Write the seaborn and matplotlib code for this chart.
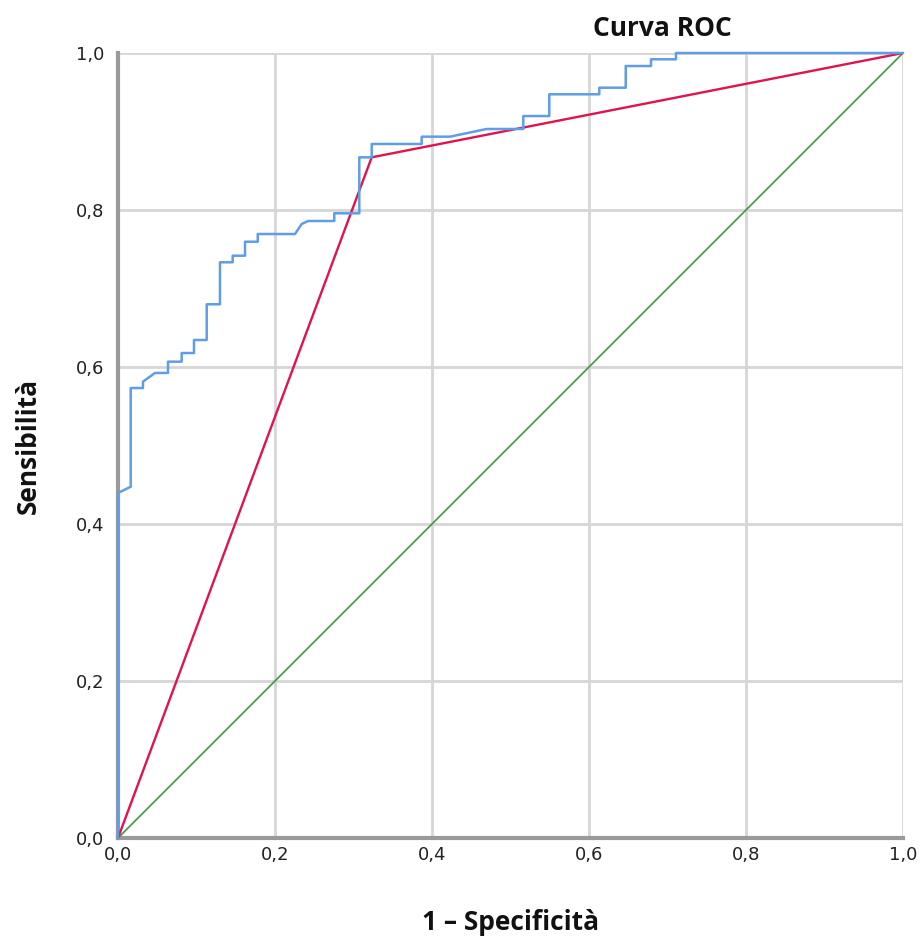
import matplotlib
matplotlib.use("Agg")
import matplotlib.pyplot as plt
import seaborn as sns
import pandas as pd

# ROC curve vertices (1 - specificity, sensitivity)
roc_fpr = [0.0, 0.0, 0.0162, 0.0162, 0.0318, 0.0318, 0.0471, 0.0637, 0.0637,
           0.0811, 0.0811, 0.0968, 0.0968, 0.113, 0.113, 0.1299, 0.1299,
           0.1461, 0.1461, 0.1618, 0.1618, 0.178, 0.178, 0.2255, 0.234,
           0.2424, 0.2755, 0.2755, 0.3074, 0.3074, 0.3232, 0.3232, 0.3869,
           0.3869, 0.4229, 0.4697, 0.5163, 0.5163, 0.5494, 0.5494, 0.6131,
           0.6131, 0.6468, 0.6468, 0.679, 0.679, 0.7108, 0.7108, 1.0]
roc_tpr = [0.0, 0.4395, 0.4475, 0.5732, 0.5732, 0.5813, 0.5924, 0.5924, 0.6068,
           0.6068, 0.6178, 0.6178, 0.6344, 0.6344, 0.6799, 0.6799, 0.7334,
           0.7334, 0.7418, 0.7418, 0.7596, 0.7596, 0.7694, 0.7694, 0.7822,
           0.7860, 0.7860, 0.7958, 0.7958, 0.8671, 0.8671, 0.8841, 0.8841,
           0.8934, 0.8934, 0.9032, 0.9032, 0.9197, 0.9197, 0.9474, 0.9474,
           0.9558, 0.9558, 0.9834, 0.9834, 0.992, 0.992, 1.0, 1.0]

# Second (binary) classifier ROC
bin_fpr = [0.0, 0.3232, 1.0]
bin_tpr = [0.0, 0.8671, 1.0]

# Reference line
ref_fpr = [0.0, 1.0]
ref_tpr = [0.0, 1.0]

ticks = [0.0, 0.2, 0.4, 0.6, 0.8, 1.0]
tick_labels = ["0,0", "0,2", "0,4", "0,6", "0,8", "1,0"]

sns.set_theme(style="white")
plt.rcParams['font.family'] = ['DejaVu Sans']

fig = plt.figure(figsize=(9.23, 9.36), dpi=100)
ax = fig.add_axes([118 / 923, 1 - 838 / 936, 785 / 923, 785 / 936])

df_roc = pd.DataFrame({"fpr": roc_fpr, "tpr": roc_tpr})
df_bin = pd.DataFrame({"fpr": bin_fpr, "tpr": bin_tpr})
df_ref = pd.DataFrame({"fpr": ref_fpr, "tpr": ref_tpr})

sns.lineplot(data=df_ref, x="fpr", y="tpr", sort=False, estimator=None, ax=ax,
             color="#3b9a3b", linewidth=1.2, zorder=3, clip_on=False)
sns.lineplot(data=df_bin, x="fpr", y="tpr", sort=False, estimator=None, ax=ax,
             color="#e0134e", linewidth=1.7, zorder=4, clip_on=False)
sns.lineplot(data=df_roc, x="fpr", y="tpr", sort=False, estimator=None, ax=ax,
             color="#5f9de6", linewidth=1.8, zorder=5, clip_on=False)

ax.set_xlim(0, 1)
ax.set_ylim(0, 1)
ax.set_xticks(ticks)
ax.set_yticks(ticks)
ax.set_xticklabels(tick_labels, fontsize=13, color="#222222")
ax.set_yticklabels(tick_labels, fontsize=13, color="#222222")
ax.tick_params(axis="both", length=0)
ax.tick_params(axis="x", pad=6)
ax.tick_params(axis="y", pad=10)

ax.grid(True, color="#d6d6d6", linewidth=2.0)
ax.set_axisbelow(True)
for side in ["top", "right"]:
    ax.spines[side].set_visible(False)
for side in ["left", "bottom"]:
    ax.spines[side].set_color("#9a9a9a")
    ax.spines[side].set_linewidth(3.0)
    ax.spines[side].set_zorder(2)

ax.set_xlabel("1 – Specificità", fontsize=19, fontweight="bold",
              family=["Open Sans", "DejaVu Sans"], labelpad=32, color="#111111")
ax.set_ylabel("Sensibilità", fontsize=19, fontweight="bold",
              family=["Open Sans", "DejaVu Sans"], labelpad=24, color="#111111")

fig.text(662 / 923, 1 - 28 / 936, "Curva ROC", ha="center", va="center",
         fontsize=19, fontweight="bold", family=["Open Sans", "DejaVu Sans"],
         color="#111111")

fig.savefig("out.png", dpi=100)
